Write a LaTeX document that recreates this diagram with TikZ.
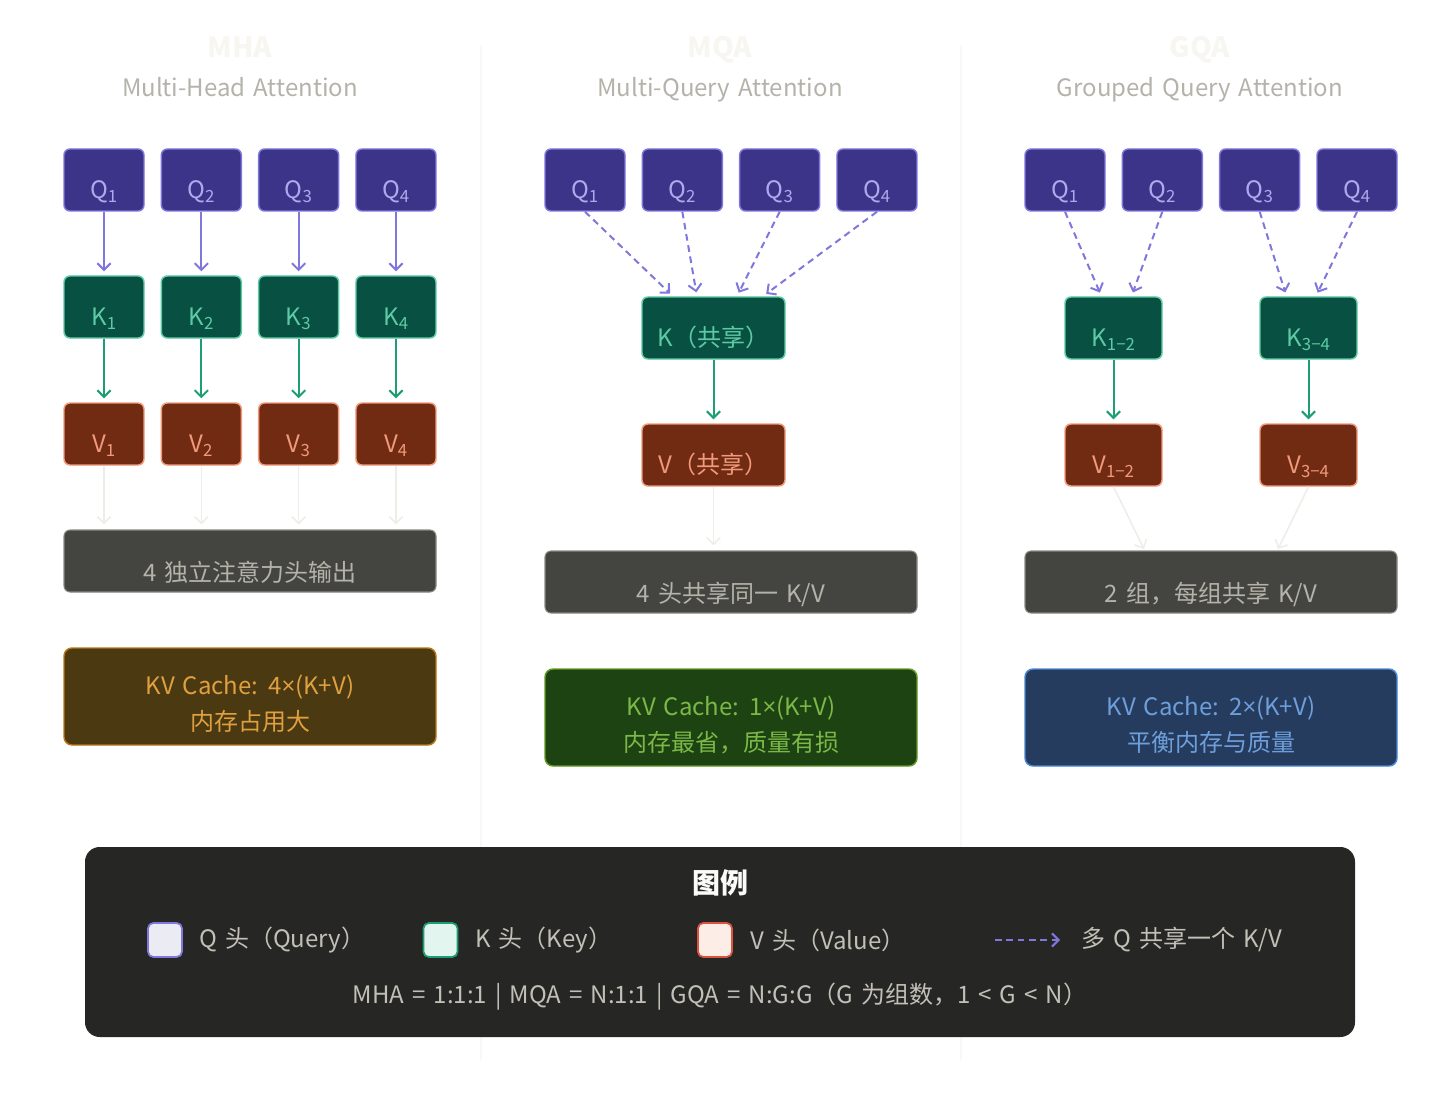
\documentclass[tikz,border=0pt]{standalone}
\usepackage{fontspec}
\setmainfont{Noto Sans CJK SC}[WordSpace=1.5]
\newfontfamily\latinfont{Open Sans}
\newcommand{\mul}{{\latinfont ×}}
\usepackage{xcolor}
\usetikzlibrary{arrows.meta,positioning}
\definecolor{qfill}{HTML}{3C3489}
\definecolor{qline}{HTML}{7F77DD}
\definecolor{qtext}{HTML}{AFA9EC}
\definecolor{kfill}{HTML}{085041}
\definecolor{kline}{HTML}{5DCAA5}
\definecolor{kdark}{HTML}{1D9E75}
\definecolor{vfill}{HTML}{712B13}
\definecolor{vline}{HTML}{F0997B}
\definecolor{outfill}{HTML}{444441}
\definecolor{outedge}{HTML}{8A8982}
\definecolor{outtext}{HTML}{B4B2A9}
\definecolor{faint}{HTML}{EEEDE8}
\definecolor{ghost}{HTML}{F7F6F1}
\definecolor{amberfill}{HTML}{4A3911}
\definecolor{amberline}{HTML}{BA7517}
\definecolor{ambertext}{HTML}{E0A040}
\definecolor{greenfill}{HTML}{1E4312}
\definecolor{greenline}{HTML}{639922}
\definecolor{greentext}{HTML}{7CB848}
\definecolor{bluefill}{HTML}{253C5F}
\definecolor{blueline}{HTML}{4A86D4}
\definecolor{bluetext}{HTML}{6E9FDB}
\definecolor{legendbg}{HTML}{262624}
\definecolor{legendtext}{HTML}{C2C0B6}

\begin{document}
\begin{tikzpicture}[x=0.75pt,y=-0.75pt,
  head/.style={draw, rounded corners=4.5pt, line width=1.1pt, minimum width=60pt, minimum height=46.5pt,
    inner sep=0pt, font=\fontsize{18}{20}\selectfont, text height=28pt, text depth=0pt},
  qhead/.style={head, fill=qfill, draw=qline, text=qtext},
  khead/.style={head, fill=kfill, draw=kline, text=kline},
  vhead/.style={head, fill=vfill, draw=vline, text=vline},
  outbox/.style={draw=outedge, fill=outfill, text=outtext, rounded corners=4.5pt, line width=0.8pt,
    minimum width=279pt, minimum height=46.5pt, inner sep=0pt, font=\fontsize{18}{20}\selectfont,
    text height=30pt, text depth=0pt},
  kvbox/.style={rounded corners=6pt, line width=1.1pt, minimum width=279pt, minimum height=72.75pt,
    inner sep=0pt, align=center, font=\fontsize{18}{27}\selectfont, text height=55pt, text depth=3.5pt},
  qarrow/.style={-{Straight Barb[length=5pt,width=10pt]}, line width=1.5pt, qline, shorten >=3pt},
  karrow/.style={-{Straight Barb[length=5pt,width=10pt]}, line width=1.5pt, kdark, shorten >=3pt},
  fade/.style={-{Straight Barb[length=5pt,width=10pt]}, line width=1.2pt, faint, shorten >=3.75pt},
  share/.style={-{Straight Barb[length=5pt,width=10pt]}, line width=1.5pt, qline, dash pattern=on 5pt off 3.5pt, shorten >=3pt},
  ttl/.style={anchor=base, font=\fontsize{21}{24}\selectfont\bfseries, text=ghost},
  sub/.style={anchor=base, font=\fontsize{18}{20}\selectfont, text=outtext},
  key/.style={draw, rounded corners=4pt, line width=1.3pt, minimum size=25.5pt, inner sep=0pt},
  keytext/.style={anchor=west, font=\fontsize{18}{20}\selectfont, text=legendtext, inner sep=0pt}
]
\useasboundingbox (0,0) rectangle (1440,1102);
\draw[ghost!80!white, line width=0.8pt] (481,45) -- (481,1060);
\draw[ghost!80!white, line width=0.8pt] (961,45) -- (961,1060);

\node[ttl] (mhattl) at (240,58) {MHA};
\node[sub] (mhasub) at (240,97) {Multi-Head Attention};
\node[ttl] (mqattl) at (720,58) {MQA};
\node[sub] (mqasub) at (720,97) {Multi-Query Attention};
\node[ttl] (gqattl) at (1200,58) {GQA};
\node[sub] (gqasub) at (1200,97) {Grouped Query Attention};

% MHA
\node[outbox] (hout) at (250,561) {4 独立注意力头输出};
\foreach \i in {1,...,4} {
  \node[qhead] (hq\i) at ({104+97.33*(\i-1)},180) {Q\textsubscript{\i}};
  \node[khead] (hk\i) at ({104+97.33*(\i-1)},307) {K\textsubscript{\i}};
  \node[vhead] (hv\i) at ({104+97.33*(\i-1)},434) {V\textsubscript{\i}};
  \draw[qarrow] (hq\i) -- (hk\i);
  \draw[karrow] (hk\i) -- (hv\i);
  \draw[fade] (hv\i) -- (hv\i |- hout.north);
}
\node[kvbox, fill=amberfill, draw=amberline, text=ambertext] (hkv) at (250,696.5) {KV Cache: 4\mul(K+V)\\内存占用大};

% MQA
\node[khead, minimum width=107.25pt] (mk) at (713.5,328) {K（共享）};
\node[vhead, minimum width=107.25pt] (mv) at (713.5,455) {V（共享）};
\node[outbox] (mout) at (731,582) {4 头共享同一 K/V};
\foreach \i/\dx in {1/-30.4,2/-12.4,3/17.6,4/37.1} {
  \node[qhead] (mq\i) at ({585+97.33*(\i-1)},180) {Q\textsubscript{\i}};
  \draw[share] (mq\i.south) -- ([xshift=\dx pt]mk.north);
}
\draw[karrow] (mk) -- (mv);
\draw[fade] (mv) -- (mv |- mout.north);
\node[kvbox, fill=greenfill, draw=greenline, text=greentext] (mkv) at (731,717.5) {KV Cache: 1\mul(K+V)\\内存最省，质量有损};

% GQA
\node[khead, minimum width=72.75pt] (gk12) at (1113.5,328) {K\textsubscript{1−2}};
\node[khead, minimum width=72.75pt] (gk34) at (1308.5,328) {K\textsubscript{3−4}};
\node[vhead, minimum width=72.75pt] (gv12) at (1113.5,455) {V\textsubscript{1−2}};
\node[vhead, minimum width=72.75pt] (gv34) at (1308.5,455) {V\textsubscript{3−4}};
\node[outbox] (gout) at (1211,582) {2 组，每组共享 K/V};
\foreach \i in {1,...,4}
  \node[qhead] (gq\i) at ({1065+97.33*(\i-1)},180) {Q\textsubscript{\i}};
\foreach \i/\k/\dx in {1/12/-9,2/12/13.5,3/34/-16.5,4/34/5.6}
  \draw[share] (gq\i.south) -- ([xshift=\dx pt]gk\k.north);
\draw[karrow] (gk12) -- (gv12);
\draw[karrow] (gk34) -- (gv34);
\coordinate (g12end) at (1144,549);
\coordinate (g34end) at (1278,549);
\draw[fade, shorten >=0pt] (gv12.south) -- (g12end);
\draw[fade, shorten >=0pt] (gv34.south) -- (g34end);
\node[kvbox, fill=bluefill, draw=blueline, text=bluetext] (gkv) at (1211,717.5) {KV Cache: 2\mul(K+V)\\平衡内存与质量};

% legend
\node[fill=legendbg, rounded corners=11pt, minimum width=952.5pt, minimum height=142.5pt] (legend) at (720,942) {};
\node[font=\fontsize{21}{24}\selectfont\bfseries, text=white!92!legendtext] (legttl) at (720,883) {图例};
\node[key, fill=qfill!10!white, draw=qline] (keyq) at (165,940) {};
\node[keytext] (keyqt) at (199,940) {Q 头（Query）};
\node[key, fill=kline!18!white, draw=kdark] (keyk) at (440.5,940) {};
\node[keytext] (keykt) at (475,940) {K 头（Key）};
\node[key, fill=vline!18!white, draw=vline!60!red!90!black] (keyv) at (715,940) {};
\node[keytext] (keyvt) at (750,940) {V 头（Value）};
\coordinate (dashfrom) at (995,940);
\coordinate (dashto) at (1060,940);
\draw[share, shorten >=0pt] (dashfrom) -- (dashto);
\node[keytext] (dasht) at (1081,940) {多 Q 共享一个 K/V};
\node[font=\fontsize{18}{20}\selectfont, text=legendtext] (ratio) at (720,997)
  {MHA = 1:1:1 | MQA = N:1:1 | GQA = N:G:G（G 为组数，1 < G < N）};
\end{tikzpicture}
\end{document}
